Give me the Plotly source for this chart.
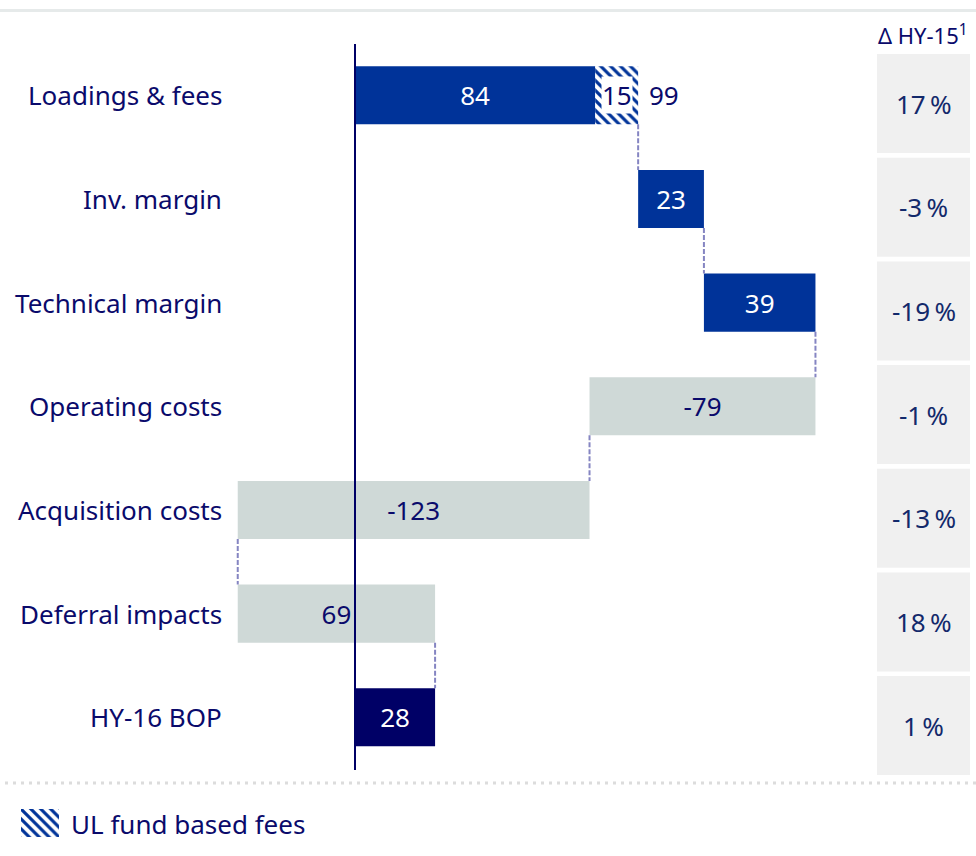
import plotly.graph_objects as go

# ---- data -----------------------------------------------------------------
categories = ["Loadings & fees", "Inv. margin", "Technical margin", "Operating costs",
              "Acquisition costs", "Deferral impacts", "HY-16 BOP"]
loadings_core = 84          # loadings & fees excluding UL fund based fees
ul_fund_fees = 15           # UL fund based fees (hatched part)
changes = [23, 39, -79, -123, 69]   # Inv. margin .. Deferral impacts
delta_hy15 = ["17%", "-3%", "-19%", "-1%", "-13%", "18%", "1%"]
legend_label = "UL fund based fees"
header_text = "\u0394 HY-15<sup>1</sup>"

# ---- styling ----------------------------------------------------------------
FONT = "Noto Sans"
FS = 26
NAVY = "#0a0a6b"
BLUE = "#003399"
DARK = "#000066"
GREY = "#cfd9d7"
BOX = "#f0f0f0"
CONN = "#8585c2"
W, H = 976, 856
ZERO_PX = 355          # horizontal pixel of the zero line
PX_PER_UNIT = 2.86
ROW0_PX, ROW_PITCH = 95.3, 103.67
BAR_W = 0.56

n = len(categories)
rows = list(range(n))

# ---- waterfall geometry from the data ----------------------------------------
loadings_total = loadings_core + ul_fund_fees
bases, lengths = [0], [loadings_core]
ends = [loadings_total]
run = loadings_total
for c in changes:
    bases.append(run)
    lengths.append(c)
    run += c
    ends.append(run)
total = run
bases.append(0)
lengths.append(total)

colors = [BLUE, BLUE, BLUE, GREY, GREY, GREY, DARK]
txt_colors = ["white", "white", "white", NAVY, NAVY, NAVY, "white"]
labels = [str(v) for v in lengths]

fig = go.Figure()

fig.add_trace(go.Bar(
    y=rows, x=lengths, base=bases, orientation="h", width=BAR_W,
    marker=dict(color=colors, line=dict(width=0)),
    text=labels, textposition="inside", insidetextanchor="middle",
    textangle=0, constraintext="none",
    textfont=dict(family=FONT, size=FS, color=txt_colors),
    hoverinfo="skip", showlegend=False,
))

# hatched UL fund based fees segment
fig.add_trace(go.Bar(
    y=[0], x=[ul_fund_fees], base=[loadings_core], orientation="h", width=BAR_W,
    marker=dict(color="white", line=dict(width=0),
                pattern=dict(shape="\\", fgcolor=BLUE, bgcolor="white",
                             size=7, solidity=0.45, fillmode="replace")),
    hoverinfo="skip", showlegend=False,
))

# dashed connectors between consecutive bars
for i in range(n - 1):
    x_c = ends[i]
    fig.add_trace(go.Scatter(
        x=[x_c, x_c], y=[i + BAR_W / 2, i + 1 - BAR_W / 2], mode="lines",
        line=dict(color=CONN, width=2, dash="5px,2px"),
        hoverinfo="skip", showlegend=False,
    ))

# legend swatch
fig.add_trace(go.Bar(
    x=[1], y=[0], orientation="h", width=1, xaxis="x2", yaxis="y2",
    marker=dict(color="white", line=dict(width=0),
                pattern=dict(shape="\\", fgcolor=BLUE, bgcolor="white",
                             size=7, solidity=0.45, fillmode="replace")),
    hoverinfo="skip", showlegend=False,
))

shapes = []
annotations = []

# zero line
shapes.append(dict(type="line", xref="x", yref="paper", x0=0, x1=0,
                   y0=1 - 44 / H, y1=1 - 770 / H,
                   line=dict(color=DARK, width=2)))
# top rule
shapes.append(dict(type="line", xref="paper", yref="paper", x0=0, x1=1,
                   y0=1 - 10.5 / H, y1=1 - 10.5 / H,
                   line=dict(color="#e6eaea", width=3)))
# bottom dotted rule
shapes.append(dict(type="line", xref="paper", yref="paper", x0=5 / W, x1=1,
                   y0=1 - 783 / H, y1=1 - 783 / H,
                   line=dict(color="#dcdcdc", width=3, dash="3px,5px")))

# category labels and change column
for i, (cat, d) in enumerate(zip(categories, delta_hy15)):
    annotations.append(dict(xref="paper", yref="y", x=224 / W, y=i,
                            xanchor="right", yanchor="middle", text=cat,
                            showarrow=False,
                            font=dict(family=FONT, size=FS, color=NAVY)))
    shapes.append(dict(type="rect", xref="paper", yref="y",
                       x0=877 / W, x1=970 / W, y0=i - 0.398, y1=i + 0.557,
                       fillcolor=BOX, line=dict(width=0), layer="below"))
    annotations.append(dict(xref="paper", yref="y", x=923.5 / W, y=i + 0.08,
                            xanchor="center", yanchor="middle",
                            text=d.replace("%", "\u2009%"), showarrow=False,
                            font=dict(family=FONT, size=FS, color="#13296b")))

# UL fees value (on white) and loadings total
annotations.append(dict(xref="x", yref="y", x=loadings_core + ul_fund_fees / 2, y=0,
                        text=str(ul_fund_fees), showarrow=False, bgcolor="white",
                        borderpad=0,
                        font=dict(family=FONT, size=FS, color=NAVY)))
annotations.append(dict(xref="x", yref="y", x=loadings_total, y=0, xshift=9,
                        xanchor="left", text=str(loadings_total), showarrow=False,
                        font=dict(family=FONT, size=FS, color=NAVY)))

# header
annotations.append(dict(xref="paper", yref="paper", x=970 / W, y=1 - 35 / H,
                        xanchor="right", yanchor="middle", text=header_text,
                        showarrow=False,
                        font=dict(family=FONT, size=22, color=NAVY)))
# legend text
annotations.append(dict(xref="paper", yref="paper", x=69 / W, y=1 - 824 / H,
                        xanchor="left", yanchor="middle", text=legend_label,
                        showarrow=False,
                        font=dict(family=FONT, size=FS, color=NAVY)))

# y range so rows land on their pixel centres (top row first)
y_top = -ROW0_PX / ROW_PITCH
y_bot = y_top + H / ROW_PITCH

fig.update_layout(
    width=W, height=H, margin=dict(l=0, r=0, t=0, b=0),
    paper_bgcolor="white", plot_bgcolor="white",
    barmode="overlay", showlegend=False,
    xaxis=dict(domain=[0, 1], range=[-ZERO_PX / PX_PER_UNIT, (W - ZERO_PX) / PX_PER_UNIT],
               visible=False, fixedrange=True),
    yaxis=dict(domain=[0, 1], range=[y_bot, y_top], visible=False, fixedrange=True),
    xaxis2=dict(domain=[21 / W, 59 / W], range=[0, 1], visible=False, anchor="y2"),
    yaxis2=dict(domain=[1 - 837 / H, 1 - 809 / H], range=[-0.5, 0.5], visible=False,
                anchor="x2"),
    shapes=shapes, annotations=annotations,
)

fig.write_html("out.html")
